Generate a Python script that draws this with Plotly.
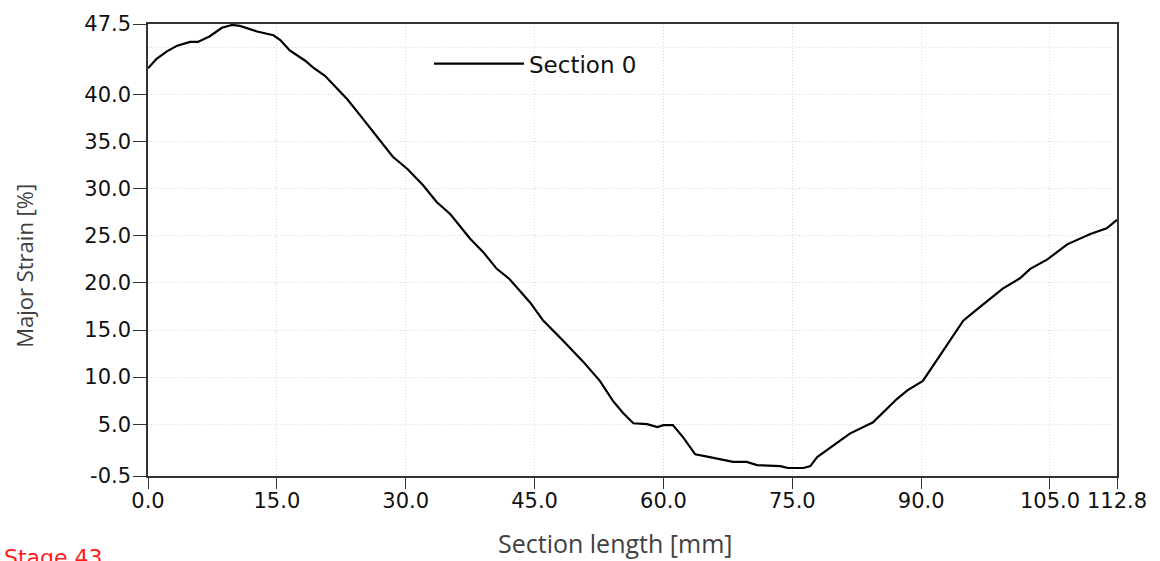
import plotly.graph_objects as go

# Data
section_length_mm = [
    0.0, 1.0, 2.2, 3.4, 4.9, 5.8, 7.2, 8.6, 9.8, 10.7, 12.7, 14.6, 15.4, 16.5,
    18.3, 19.2, 20.6, 23.2, 24.7, 27.0, 28.5, 30.2, 32.0, 33.6, 35.2, 37.5,
    39.0, 40.6, 42.1, 44.5, 46.0, 48.3, 50.6, 52.6, 54.1, 55.3, 56.5, 58.1,
    59.3, 60.0, 61.1, 62.3, 63.7, 65.4, 68.1, 69.7, 70.9, 73.6, 74.5, 76.3,
    77.1, 77.9, 79.0, 81.7, 84.4, 85.6, 87.2, 88.4, 90.2, 92.2, 94.9, 96.5,
    99.5, 101.5, 102.7, 104.7, 107.0, 109.7, 111.6, 112.8,
]
major_strain_pct = [
    42.8, 43.8, 44.6, 45.2, 45.6, 45.6, 46.2, 47.1, 47.4, 47.3, 46.7, 46.3, 45.8, 44.7,
    43.6, 42.9, 42.0, 39.5, 37.8, 35.2, 33.4, 32.1, 30.4, 28.6, 27.3, 24.7,
    23.3, 21.5, 20.4, 17.9, 16.0, 13.9, 11.7, 9.6, 7.5, 6.2, 5.1, 5.0,
    4.7, 4.9, 4.9, 3.6, 1.8, 1.5, 1.0, 1.0, 0.66, 0.55, 0.35, 0.35,
    0.55, 1.5, 2.2, 4.0, 5.2, 6.3, 7.7, 8.6, 9.6, 12.3, 16.0, 17.2,
    19.4, 20.5, 21.5, 22.5, 24.1, 25.2, 25.8, 26.7,
]

x_tickvals = [0.0, 15.0, 30.0, 45.0, 60.0, 75.0, 90.0, 105.0, 112.8]
y_tickvals = [-0.5, 5.0, 10.0, 15.0, 20.0, 25.0, 30.0, 35.0, 40.0, 47.5]
y_extra_grid = [45.0]
x_ticktext = [f"{v:.1f}" for v in x_tickvals]
y_ticktext = [f"{v:.1f}" for v in y_tickvals]

series_name = "Section 0"
x_title = "Section length [mm]"
y_title = "Major Strain [%]"
stage_label = "Stage 43"

tick_font = dict(family="DejaVu Sans", size=21, color="#111111")
grid_color = "#d8d8d8"
grid_dash = "1px,2px"
axis_color = "#333333"

fig = go.Figure()
fig.add_trace(go.Scatter(
    x=section_length_mm, y=major_strain_pct, mode="lines", name=series_name,
    line=dict(color="black", width=2.2),
))

fig.update_layout(
    width=1160, height=561,
    margin=dict(l=148, r=43, t=21, b=85),
    paper_bgcolor="white", plot_bgcolor="white",
    showlegend=True,
    legend=dict(
        x=0.29, y=0.96, xanchor="left", yanchor="top",
        bgcolor="rgba(0,0,0,0)", borderwidth=0,
        font=dict(family="DejaVu Sans", size=23, color="#111111"),
        itemwidth=90,
    ),
    xaxis=dict(
        range=[0, 112.8], tickmode="array", tickvals=x_tickvals, ticktext=x_ticktext,
        tickfont=tick_font, ticklabelstandoff=-6,
        ticks="outside", ticklen=11, tickcolor=axis_color, tickwidth=1,
        showline=True, linecolor=axis_color, linewidth=1.5, mirror=True,
        showgrid=True, gridcolor=grid_color, griddash=grid_dash, gridwidth=1,
        zeroline=False,
    ),
    yaxis=dict(
        range=[-0.5, 47.5], tickmode="array", tickvals=y_tickvals, ticktext=y_ticktext,
        tickfont=tick_font, ticklabelstandoff=-2,
        ticks="outside", ticklen=13, tickcolor=axis_color, tickwidth=1,
        showline=True, linecolor=axis_color, linewidth=1.5, mirror=True,
        showgrid=True, gridcolor=grid_color, griddash=grid_dash, gridwidth=1,
        zeroline=False,
        minor=dict(tickmode="array", tickvals=y_extra_grid, ticks="",
                   showgrid=True, gridcolor=grid_color, griddash=grid_dash, gridwidth=1),
    ),
    annotations=[
        dict(text=x_title, xref="paper", yref="paper", x=0.482, y=-0.149,
             xanchor="center", yanchor="middle", showarrow=False,
             font=dict(family="Open Sans", size=25, color="#404040")),
        dict(text=y_title, xref="paper", yref="paper", x=-0.128, y=0.465,
             xanchor="center", yanchor="middle", textangle=-90, showarrow=False,
             font=dict(family="Open Sans", size=22, color="#404040")),
        dict(text=stage_label, xref="paper", yref="paper", x=-0.151, y=-0.148,
             xanchor="left", yanchor="top", showarrow=False,
             font=dict(family="DejaVu Sans", size=22, color="#ff1a1a")),
    ],
)

fig.write_html("out.html")
